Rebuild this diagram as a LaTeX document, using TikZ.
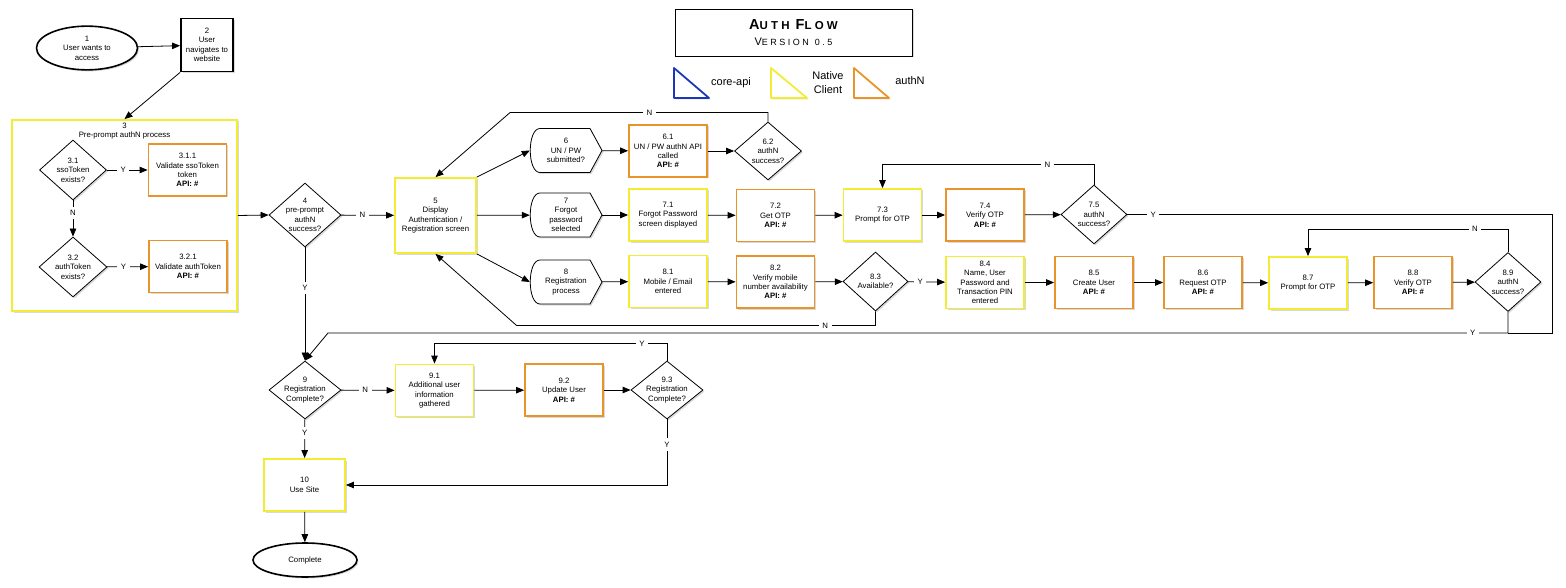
\documentclass[tikz,border=0pt]{standalone}
\usepackage{fontspec}
\setmainfont{Liberation Sans}
\newfontfamily\titlefont[LetterSpace=28]{Liberation Sans}
\usepackage{xcolor}
\usetikzlibrary{shapes.geometric,arrows.meta,shadows}
\definecolor{nativeyellow}{RGB}{243,236,52}
\definecolor{authorange}{RGB}{232,148,42}
\definecolor{coreblue}{RGB}{24,56,184}
\tikzset{
    every node/.style={font=\fontsize{7.8}{9.4}\selectfont, align=center},
    boxshadow/.style={drop shadow={shadow xshift=1.5pt, shadow yshift=-1.5pt, opacity=0.3}},
    box/.style={rectangle, draw, line width=1.8pt, minimum width=78pt, minimum height=52pt, inner sep=1pt, fill=white, boxshadow},
    native/.style={box, draw=nativeyellow},
    authn/.style={box, draw=authorange},
    dia/.style={diamond, draw, line width=0.8pt, inner sep=0pt, fill=white, boxshadow},
    disp/.style={rectangle, minimum width=72pt, minimum height=44pt, inner sep=0pt},
    term/.style={ellipse, draw, line width=1.6pt, fill=white, boxshadow},
    wire/.style={line width=0.8pt},
    arr/.style={wire, -{Triangle[length=8pt,width=6.5pt]}},
    yn/.style={fill=white, inner sep=3.5pt},
    legend/.style={font=\fontsize{11}{14}\selectfont},
    legtri/.style={line width=1.8pt, line join=round, fill=white, boxshadow}
}
\newcommand{\decision}[6] {
    \node[dia, minimum width={#4pt}, minimum height={#5pt}, label={center:{#6}}] (#1) at ({#2}, {#3}) {};
}
\newcommand{\dispnode}[4] {
    \draw[wire, fill=white, boxshadow] ({#2-26}, {#3-22}) -- ({#2+24}, {#3-22}) -- ({#2+36}, {#3})
        -- ({#2+24}, {#3+22}) -- ({#2-26}, {#3+22}) .. controls ({#2-39}, {#3+22}) and ({#2-39}, {#3-22}) .. cycle;
    \node[disp] (#1) at ({#2}, {#3}) {#4};
}
\newcommand{\fakesc}[4]{{\fontsize{#1}{16}\selectfont #3}{\fontsize{#2}{16}\selectfont #4}}
\newcommand{\api}{\textbf{API: \#}}

\begin{document}
\begin{tikzpicture}[x={(1pt,0)}, y={(0,-1pt)}]
    \useasboundingbox (0,0) rectangle (1566,588);

    \node[draw, line width=0.9pt, fill=white, boxshadow, minimum width=237pt, minimum height=47pt] (title) at (793.5,32.5)
        {{\titlefont\bfseries\fakesc{14.5}{11.5}{A}{UTH}\hspace{6pt}\fakesc{14.5}{11.5}{F}{LOW}}\\[6pt]
         {\titlefont\fakesc{11}{9}{V}{ERSION}\hspace{6pt}\fakesc{9}{9}{}{0.5}}};
    \draw[coreblue, legtri] (674,68) -- (674,98) -- (709,98) -- cycle;
    \draw[nativeyellow, legtri] (771,68) -- (771,98) -- (807,98) -- cycle;
    \draw[authorange, legtri] (854,68) -- (854,98) -- (889,98) -- cycle;
    \node[legend] (corelbl) at (731,83) {core-api};
    \node[legend] (nativelbl) at (828,83) {Native\\Client};
    \node[legend] (authnlbl) at (910,81) {authN};

    \node[term, minimum width=101pt, minimum height=35pt] (start) at (87,48) {1\\User wants to\\access};
    \node[box, minimum width=52pt, minimum height=53pt] (nav) at (207,45) {2\\User\\navigates to\\website};

    \node[native, minimum width=225pt, minimum height=191pt,
        label={[anchor=north, inner sep=1pt, yshift=-2.5pt]north:3\\Pre-prompt authN process}] (pre) at (124.5,215.5) {};
    \decision{d31}{73}{170}{67}{60}{3.1\\ssoToken\\exists?}
    \decision{d32}{73}{267}{68}{60}{3.2\\authToken\\exists?}
    \node[authn] (b311) at (187.5,170) {3.1.1\\Validate ssoToken\\token\\\api};
    \node[authn] (b321) at (188,266.5) {3.2.1\\Validate authToken\\\api};

    \decision{d4}{305}{215}{72}{64}{4\\pre-prompt\\authN\\success?}
    \node[native, minimum width=81pt, minimum height=75pt] (b5) at (435.5,215.5) {5\\Display\\Authentication /\\Registration screen};

    \dispnode{s6}{566}{150.5}{6\\UN / PW\\submitted?}
    \dispnode{s7}{566}{215}{7\\Forgot\\password\\selected}
    \dispnode{s8}{566}{282}{8\\Registration\\process}

    \node[authn] (b61) at (668,151) {6.1\\UN / PW authN API\\called\\\api};
    \decision{d62}{768}{151}{67}{58}{6.2\\authN\\success?}

    \node[native] (b71) at (668,215) {7.1\\Forgot Password\\screen displayed};
    \node[authn] (b72) at (775.5,215.5) {7.2\\Get OTP\\\api};
    \node[native] (b73) at (882.5,215) {7.3\\Prompt for OTP};
    \node[authn] (b74) at (985,215) {7.4\\Verify OTP\\\api};
    \decision{d75}{1094}{214.5}{66}{59}{7.5\\authN\\success?}

    \node[native] (b81) at (668,281.5) {8.1\\Mobile / Email\\entered};
    \node[authn] (b82) at (775.5,282) {8.2\\Verify mobile\\number availability\\\api};
    \decision{d83}{875.5}{281.5}{65}{59}{8.3\\Available?}
    \node[native] (b84) at (985,282.5) {8.4\\Name, User\\Password and\\Transaction PIN\\entered};
    \node[authn] (b85) at (1094,282.5) {8.5\\Create User\\\api};
    \node[authn] (b86) at (1203,282.5) {8.6\\Request OTP\\\api};
    \node[native] (b87) at (1308,283) {8.7\\Prompt for OTP};
    \node[authn] (b88) at (1413,282.5) {8.8\\Verify OTP\\\api};
    \decision{d89}{1508}{282}{66}{59}{8.9\\authN\\success?}

    \decision{d9}{305}{390}{72}{58}{9\\Registration\\Complete?}
    \node[native] (b91) at (434.5,390.5) {9.1\\Additional user\\information\\gathered};
    \node[authn] (b92) at (564,390) {9.2\\Update User\\\api};
    \decision{d93}{667}{390}{72}{58}{9.3\\Registration\\Complete?}

    \node[native, minimum width=81pt] (b10) at (304.5,485) {10\\Use Site};
    \node[term, minimum width=104pt, minimum height=34pt] (done) at (305,560) {Complete};

    \coordinate (yjoin) at (1508,333);
    \coordinate (ybend) at (328,333);

    \draw[arr] (start) -- (nav);
    \draw[arr] (nav.south west) -- (pre.north);
    \draw[arr] (d31) -- node[yn, pos=0.4]{Y} (b311);
    \draw[arr] (d31) -- node[yn, pos=0.35]{N} (d32);
    \draw[arr] (d32) -- node[yn, pos=0.4]{Y} (b321);
    \draw[arr] (pre.east) -- (d4.west);
    \draw[arr] (d4) -- node[yn, pos=0.4]{N} (b5);
    \draw[arr] (d4) -- node[yn, pos=0.36]{Y} (d9);

    \draw[arr] (b5.north east) -- (s6.west);
    \draw[arr] (b5) -- (s7);
    \draw[arr] (b5.south east) -- (s8.west);

    \draw[arr] (s6) -- (b61);
    \draw[arr] (b61) -- (d62);
    \draw[arr] (d62.north) |- node[yn, pos=0.73]{N} ++(-258,-9) -- (b5.north);

    \draw[arr] (s7) -- (b71);
    \draw[arr] (b71) -- (b72);
    \draw[arr] (b72) -- (b73);
    \draw[arr] (b73) -- (b74);
    \draw[arr] (b74) -- (d75);
    \draw[arr] (d75.north) -- ++(0,-20) -| node[yn, pos=0.11]{N} (b73.north);
    \draw[wire] (d75.east) -- node[yn, pos=0.061]{Y} ++(425,0) |- (yjoin);

    \draw[arr] (s8) -- (b81);
    \draw[arr] (b81) -- (b82);
    \draw[arr] (b82) -- (d83);
    \draw[arr] (d83) -- node[yn, pos=0.33]{Y} (b84);
    \draw[arr] (d83.south) |- node[yn, pos=0.57]{N} ++(-359,14) -- (b5.south);
    \draw[arr] (b84) -- (b85);
    \draw[arr] (b85) -- (b86);
    \draw[arr] (b86) -- (b87);
    \draw[arr] (b87) -- (b88);
    \draw[arr] (b88) -- (d89);
    \draw[arr] (d89.north) -- ++(0,-23) -| node[yn, pos=0.083]{N} (b87.north);
    \draw[arr] (d89.south) |- node[yn, pos=0.515]{Y} (ybend) -- (d9.north);

    \draw[arr] (d9) -- node[yn, pos=0.45]{N} (b91);
    \draw[arr] (b91) -- (b92);
    \draw[arr] (b92) -- (d93);
    \draw[arr] (d93.north) -- ++(0,-17) -| node[yn, pos=0.054]{Y} (b91.north);
    \draw[arr] (d93.south) |- node[yn, pos=0.19]{Y} (b10.east);
    \draw[arr] (d9) -- node[yn, pos=0.36]{Y} (b10);
    \draw[arr] (b10) -- (done);
\end{tikzpicture}
\end{document}
